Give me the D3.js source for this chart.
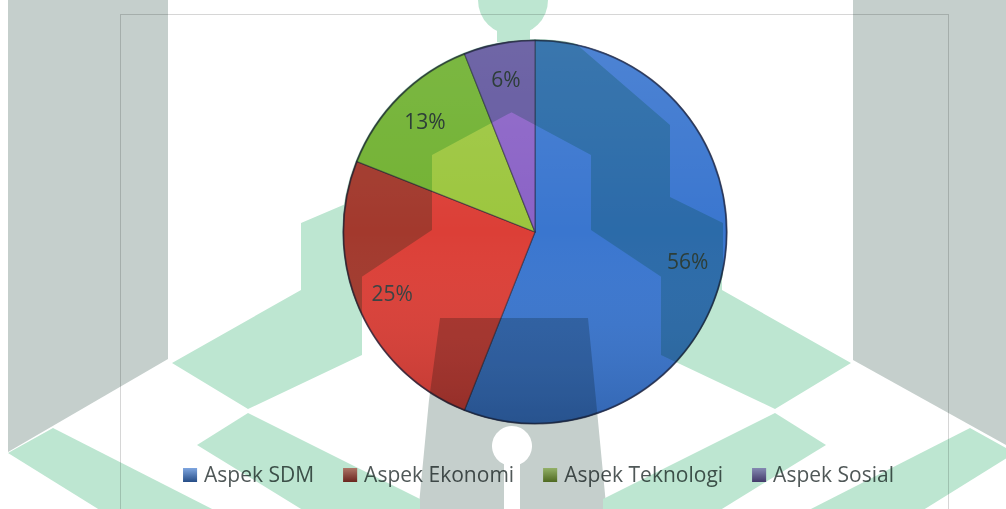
<!DOCTYPE html>
<html><head><meta charset="utf-8">
<script src="https://cdn.jsdelivr.net/npm/d3@7"></script>
<style>html,body{margin:0;padding:0;background:#fff;overflow:hidden}svg{display:block}</style>
</head><body>
<svg id="chart" width="1006" height="509"></svg>
<script>
// ---- data ----
const categories = ["Aspek SDM", "Aspek Ekonomi", "Aspek Teknologi", "Aspek Sosial"];
const values = [56, 25, 13, 6];
const valueLabels = ["56%", "25%", "13%", "6%"];
const sliceColors = ["#3a76cf", "#dc3f37", "#9cc63e", "#8a62c6"];

// ---- layout ----
const W = 1006, H = 509;
const svg = d3.select("#chart");
svg.append("rect").attr("width", W).attr("height", H).attr("fill", "#fff");
const defs = svg.append("defs");
const lg = defs.append("linearGradient").attr("id", "shade")
  .attr("x1", 0).attr("y1", 0).attr("x2", 0).attr("y2", 1);
lg.append("stop").attr("offset", "0%").attr("stop-color", "#fff").attr("stop-opacity", 0.10);
lg.append("stop").attr("offset", "50%").attr("stop-color", "#fff").attr("stop-opacity", 0);
lg.append("stop").attr("offset", "100%").attr("stop-color", "#000").attr("stop-opacity", 0.14);

const mg = defs.append("linearGradient").attr("id", "mshade")
  .attr("x1", 0).attr("y1", 0).attr("x2", 0).attr("y2", 1);
mg.append("stop").attr("offset", "0%").attr("stop-color", "#fff").attr("stop-opacity", 0.35);
mg.append("stop").attr("offset", "100%").attr("stop-color", "#000").attr("stop-opacity", 0.35);

// chart frame
svg.append("rect").attr("x", 120.5).attr("y", 14.5).attr("width", 828).attr("height", 520)
  .attr("fill", "none").attr("stroke", "#d6d6d6").attr("stroke-width", 1);

// ---- pie ----
const cx = 535, cy = 232, R = 192;
defs.append("clipPath").attr("id", "pieClip")
  .append("circle").attr("cx", cx).attr("cy", cy).attr("r", R + 1);

const pieData = d3.pie().sort(null).value(d => d)(values);
const arc = d3.arc().innerRadius(0).outerRadius(R);
const pg = svg.append("g").attr("transform", `translate(${cx},${cy})`);
pg.selectAll("path.slice").data(pieData).join("path")
  .attr("class", "slice")
  .attr("d", arc)
  .attr("fill", (d, i) => sliceColors[i])
  .attr("stroke", "rgba(35,35,55,0.55)")
  .attr("stroke-width", 1.2)
  .attr("stroke-linejoin", "round");
pg.append("circle").attr("r", R).attr("fill", "url(#shade)");
pg.append("circle").attr("r", R - 0.5).attr("fill", "none")
  .attr("stroke", "rgba(25,30,55,0.6)").attr("stroke-width", 1.6);

const labelArc = d3.arc().innerRadius(R * 0.81).outerRadius(R * 0.81);
pg.selectAll("text.lbl").data(pieData).join("text")
  .attr("class", "lbl")
  .attr("transform", d => `translate(${labelArc.centroid(d)})`)
  .attr("text-anchor", "middle")
  .attr("dy", "0.35em")
  .attr("font-family", "'Open Sans', sans-serif")
  .attr("font-size", 21)
  .attr("fill", "#3c4444")
  .text((d, i) => valueLabels[i]);

// ---- legend ----
const legend = svg.append("g");
const items = legend.selectAll("g").data(categories).join("g");
items.append("rect").attr("width", 14).attr("height", 14).attr("y", -14)
  .attr("fill", (d, i) => sliceColors[i]);
items.append("rect").attr("width", 14).attr("height", 14).attr("y", -14)
  .attr("fill", "url(#mshade)");
items.append("text").attr("x", 21).attr("y", 0)
  .attr("font-family", "'Open Sans', sans-serif")
  .attr("font-size", 21)
  .attr("fill", "#505858")
  .text(d => d);
let xpos = 0;
const offsets = [];
items.each(function () {
  const tw = d3.select(this).select("text").node().getComputedTextLength();
  offsets.push(xpos);
  xpos += 21 + tw + 29;
});
const totalW = xpos - 29;
const lx0 = 538.5 - totalW / 2;
items.attr("transform", (d, i) => `translate(${lx0 + offsets[i]},482)`);

// ---- background watermark (multiplied over the chart) ----
const wm = svg.append("g").style("mix-blend-mode", "multiply");
const gray = "#c5cfcc", green = "#bde6d1";
const mirror = pts => pts.map(p => [1023 - p[0], p[1]]);
const line = d3.line();
[[[8,0],[168,0],[168,359],[8,452]],
 [[853,0],[1006,0],[1006,445],[853,360]]]
  .forEach(p => wm.append("path").attr("d", line(p) + "Z").attr("fill", gray));
wm.append("path")
  .attr("d", "M440,318 L588,318 L596,400 L607,515 L418,515 L429,400 Z " +
             "M504,512 L504,464.3 A20,20 0 1,1 520,464.3 L520,512 Z")
  .attr("fill-rule", "evenodd").attr("fill", gray);

// parts of the emblem that only show inside the pie
const innerL = [[512,30],[512,112],[432,155],[432,230],[360,278],[300,278],[300,30]];
const innerRoof = [[463,30],[512,30],[512,112],[432,155],[432,230],[360,278],[300,278],
  [300,223],[353,197],[353,125]];
const inner = wm.append("g").attr("clip-path", "url(#pieClip)");
[innerL, mirror(innerRoof)].forEach(p =>
  inner.append("path").attr("d", line(p) + "Z").attr("fill", green));

// parts outside
const chevronL = [[301,223],[362,197],[362,355],[248,409],[172,363],[301,290]];
const diamondL = [[197,445],[248,413],[420,499],[420,512],[306,512]];
const bandL = [[8,453],[53,428],[218,512],[103,512]];
[chevronL, mirror(chevronL), diamondL, mirror(diamondL), bandL, mirror(bandL)]
  .forEach(p => wm.append("path").attr("d", line(p) + "Z").attr("fill", green));
wm.append("circle").attr("cx", 513).attr("cy", 0).attr("r", 35).attr("fill", green);
wm.append("rect").attr("x", 497).attr("y", 30).attr("width", 33).attr("height", 12).attr("fill", green);
</script>
</body></html>
